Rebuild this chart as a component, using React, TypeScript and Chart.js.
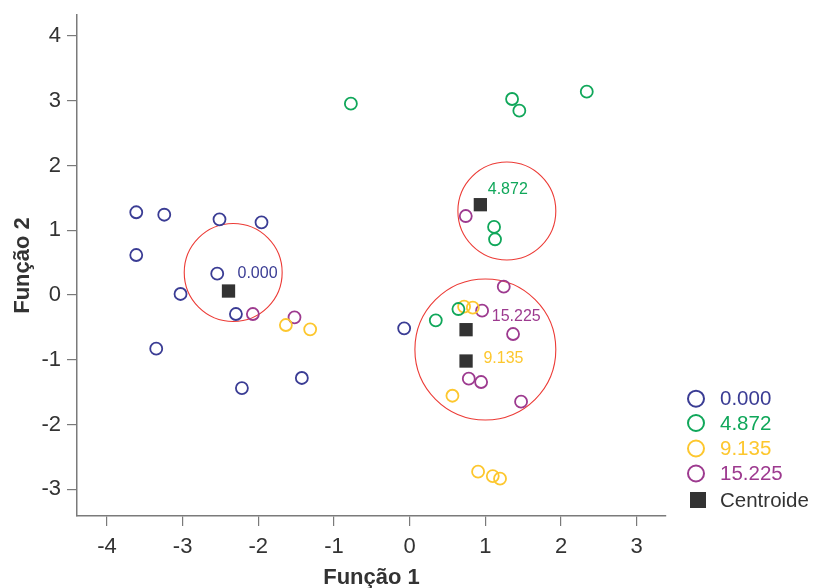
import { useEffect, useRef } from 'react';
import { Chart, registerables } from 'chart.js';

Chart.register(...registerables);

// ---- Data ----
const groupLabels = ['0.000', '4.872', '9.135', '15.225'];
const groupColors = ['#3a3c94', '#10a75a', '#fdc72e', '#9d3a8f'];

const g0X = [-3.613, -3.243, -2.513, -1.958, -3.613, -2.543, -3.028, -2.296, -3.349, -2.217, -1.425, -0.073];
const g0Y = [1.278, 1.240, 1.169, 1.123, 0.618, 0.329, 0.016, -0.293, -0.829, -1.436, -1.281, -0.514];

const g1X = [-0.777, 1.353, 1.449, 2.340, 1.115, 1.128, 0.345, 0.644];
const g1Y = [2.955, 3.027, 2.846, 3.140, 1.051, 0.861, -0.390, -0.216];

const g2X = [-1.636, -1.315, 0.719, 0.834, 0.565, 0.904, 1.098, 1.194];
const g2Y = [-0.463, -0.529, -0.180, -0.196, -1.555, -2.728, -2.795, -2.836];

const g3X = [-2.072, -1.522, 0.741, 1.243, 0.957, 1.366, 0.781, 0.944, 1.472];
const g3Y = [-0.293, -0.344, 1.220, 0.129, -0.242, -0.602, -1.292, -1.343, -1.647];

const centroidX = [-2.394, 0.934, 0.745, 0.745];
const centroidY = [0.062, 1.395, -1.019, -0.535];

// centroid text labels (group index, anchor in data units)
const centroidLabelGroup = [0, 1, 3, 2];
const centroidLabelX = [-2.275, 1.032, 1.085, 0.974];
const centroidLabelY = [0.336, 1.622, -0.335, -0.988];

// red circles (center and radius in axis-1 units)
const circleX = [-2.332, 1.284, 1.000];
const circleY = [0.348, 1.298, -0.841];
const circleR = [0.647, 0.647, 0.931];

const xTicks = [-4, -3, -2, -1, 0, 1, 2, 3];
const yTicks = [-3, -2, -1, 0, 1, 2, 3, 4];
const xMin = -4.396, xMax = 3.387;
const yMin = -3.412, yMax = 4.324;

const FONT = "'Liberation Sans', Arial, Helvetica, sans-serif";

const toPts = (xs: number[], ys: number[]) => xs.map((x, i) => ({ x, y: ys[i] }));

const overlay = {
  id: 'overlay',
  beforeDatasetsDraw(chart: any) {
    const { ctx, scales } = chart;
    const x = scales.x, y = scales.y;
    ctx.save();
    ctx.strokeStyle = '#ec3b36';
    ctx.lineWidth = 1.1;
    circleX.forEach((cx, i) => {
      const px = x.getPixelForValue(cx);
      const py = y.getPixelForValue(circleY[i]);
      const r = x.getPixelForValue(cx + circleR[i]) - px;
      ctx.beginPath();
      ctx.arc(px, py, r, 0, Math.PI * 2);
      ctx.stroke();
    });
    ctx.restore();
  },
  afterDatasetsDraw(chart: any) {
    const { ctx, scales } = chart;
    const x = scales.x, y = scales.y;
    ctx.save();
    ctx.font = `16px ${FONT}`;
    ctx.textAlign = 'left';
    ctx.textBaseline = 'middle';
    centroidLabelX.forEach((lx, i) => {
      const g = centroidLabelGroup[i];
      ctx.fillStyle = groupColors[g];
      ctx.fillText(groupLabels[g], x.getPixelForValue(lx), y.getPixelForValue(centroidLabelY[i]));
    });
    ctx.restore();
  },
  afterDraw(chart: any) {
    const { ctx, chartArea } = chart;
    const lx = chartArea.right + 30;
    const tx = lx + 24;
    const rows = [398.7, 423, 448.5, 473.5, 500];
    ctx.save();
    ctx.font = `20.5px ${FONT}`;
    ctx.textAlign = 'left';
    ctx.textBaseline = 'middle';
    groupLabels.forEach((lab, i) => {
      ctx.strokeStyle = groupColors[i];
      ctx.lineWidth = 2;
      ctx.beginPath();
      ctx.arc(lx, rows[i], 8, 0, Math.PI * 2);
      ctx.stroke();
      ctx.fillStyle = groupColors[i];
      ctx.fillText(lab, tx, rows[i] + 1);
    });
    ctx.fillStyle = '#333333';
    ctx.fillRect(lx - 6, rows[4] - 8, 16, 16);
    ctx.fillText('Centroide', tx, rows[4] + 1);
    ctx.restore();
  },
};

export default function App() {
  const ref = useRef<HTMLCanvasElement | null>(null);

  useEffect(() => {
    if (!ref.current) return;
    const pointDs = (i: number, xs: number[], ys: number[]) => ({
      label: groupLabels[i],
      data: toPts(xs, ys),
      showLine: false,
      pointStyle: 'circle',
      pointRadius: 6,
      pointHoverRadius: 6,
      pointBorderWidth: 1.8,
      borderColor: groupColors[i],
      backgroundColor: 'rgba(255,255,255,0)',
      pointBackgroundColor: 'rgba(255,255,255,0)',
      pointBorderColor: groupColors[i],
    });
    const chart = new Chart(ref.current, {
      type: 'scatter',
      data: {
        datasets: [
          {
            label: 'Centroide',
            data: toPts(centroidX, centroidY),
            showLine: false,
            pointStyle: 'rect',
            pointRadius: 9.4,
            pointHoverRadius: 9.4,
            pointBorderWidth: 0,
            backgroundColor: '#333333',
            borderColor: '#333333',
            pointBackgroundColor: '#333333',
          } as any,
          pointDs(0, g0X, g0Y),
          pointDs(1, g1X, g1Y),
          pointDs(2, g2X, g2Y),
          pointDs(3, g3X, g3Y),
        ],
      },
      options: {
        animation: false,
        responsive: true,
        maintainAspectRatio: false,
        events: [],
        layout: { padding: { top: 15, right: 150, left: 0, bottom: 0 } },
        plugins: { legend: { display: false }, tooltip: { enabled: false } },
        scales: {
          x: {
            type: 'linear',
            min: xMin,
            max: xMax,
            afterFit: (s: any) => { s.height = 72; s.paddingLeft = 0; s.paddingRight = 0; },
            afterBuildTicks: (s: any) => { s.ticks = xTicks.map((v) => ({ value: v })); },
            grid: { drawOnChartArea: false, drawTicks: true, tickLength: 10, color: '#7a7a7a', lineWidth: 1.2 },
            border: { display: true, color: '#7a7a7a', width: 1.5 },
            ticks: { color: '#333333', font: { family: FONT, size: 22 }, padding: 8, callback: (v: any) => String(v) },
            title: {
              display: true,
              text: 'Função 1',
              color: '#333333',
              font: { family: FONT, size: 22, weight: 'bold', lineHeight: 1 },
              padding: { top: 0, bottom: -1 },
            },
          },
          y: {
            type: 'linear',
            min: yMin,
            max: yMax,
            afterFit: (s: any) => { s.width = 77; s.paddingTop = 0; s.paddingBottom = 0; },
            afterBuildTicks: (s: any) => { s.ticks = yTicks.map((v) => ({ value: v })); },
            grid: { drawOnChartArea: false, drawTicks: true, tickLength: 10, color: '#7a7a7a', lineWidth: 1.2 },
            border: { display: true, color: '#7a7a7a', width: 1.5 },
            ticks: { color: '#333333', font: { family: FONT, size: 22 }, padding: 6, callback: (v: any) => String(v) },
            title: {
              display: true,
              text: 'Função 2',
              color: '#333333',
              font: { family: FONT, size: 22, weight: 'bold', lineHeight: 1 },
              padding: { top: 12, bottom: 0 },
            },
          },
        },
      } as any,
      plugins: [overlay],
    });
    return () => chart.destroy();
  }, []);

  return (
    <div style={{ position: 'fixed', left: 0, top: 0, width: 816, height: 588, background: '#ffffff' }}>
      <canvas ref={ref} />
    </div>
  );
}
